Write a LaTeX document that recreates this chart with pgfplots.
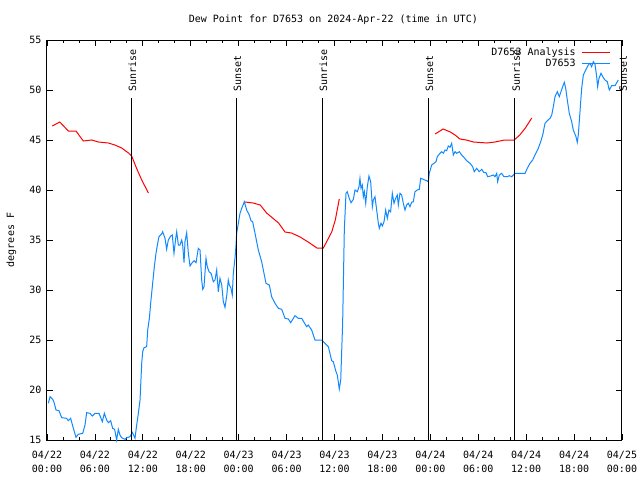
\documentclass[border=0pt]{standalone}
\usepackage{pgfplots}
\pgfplotsset{compat=1.18}
\usepackage{fontspec}
\setmainfont{DejaVu Sans Mono}
\definecolor{dpblue}{RGB}{16,136,255}
\begin{document}
\fontsize{7.5}{9}\selectfont
\begin{tikzpicture}[x=1pt,y=1pt]
\path[use as bounding box] (0,0) rectangle (480,360);
\node[font=\fontsize{7.5}{9}\selectfont] at (250,345) {Dew Point for D7653 on 2024-Apr-22 (time in UTC)};
\node[rotate=90,font=\fontsize{7.5}{9}\selectfont] at (8.5,180) {degrees F};
\begin{axis}[
  at={(35.25pt,30pt)}, anchor=south west,
  scale only axis, width=431.25pt, height=300pt,
  xmin=0, xmax=72, ymin=15, ymax=55,
  axis line style={line width=0.75pt},
  every tick/.style={black, line width=0.6pt},
  major tick length=4.5pt, minor tick length=2.5pt,
  tick align=inside,
  xtick={0,6,...,72},
  minor x tick num=2,
  xticklabels={04/22\\00:00,04/22\\06:00,04/22\\12:00,04/22\\18:00,04/23\\00:00,04/23\\06:00,04/23\\12:00,04/23\\18:00,04/24\\00:00,04/24\\06:00,04/24\\12:00,04/24\\18:00,04/25\\00:00},
  xticklabel style={align=center, font=\fontsize{7.5}{10.5}\selectfont, yshift=-5.5pt},
  ytick={15,20,...,55},
  yticklabel style={font=\fontsize{7.5}{9}\selectfont, xshift=-1.5pt},
  /pgf/number format/assume math mode=true,
  legend style={draw=none, fill=none, at={(rel axis cs:0.982,0.99)}, anchor=north east,
    font=\fontsize{7.5}{9}\selectfont, legend cell align=right, row sep=-2.5pt, inner sep=1pt,
    nodes={inner xsep=4pt}},
  legend plot pos=right,
  legend image code/.code={\draw[#1] (-1pt,0pt) -- (20pt,0pt);},
  clip=false,
]
\addplot[red, line width=0.75pt] coordinates {
(0.66,46.4)(1.6,46.8)(2.67,45.9)(3.63,45.9)(4.55,44.9)(5.6,45.0)(6.43,44.8)(7.68,44.7)(8.5,44.5)(9.35,44.2)(10.2,43.7)(10.6,43.4)(11.2,42.2)(11.86,41.0)(12.7,39.7)
};
\addlegendentry{D7653 Analysis}
\addplot[dpblue, line width=0.75pt] coordinates {
(0.17,18.67)(0.38,19.33)(0.71,19.07)(0.88,18.77)(1.13,18.0)(1.5,17.93)(1.84,17.23)(2.46,17.17)(2.67,16.93)(2.96,17.17)(3.3,16.17)(3.63,15.27)(3.92,15.57)(4.47,15.67)(4.76,16.5)(4.97,17.73)(5.38,17.67)(5.68,17.4)(6.01,17.67)(6.51,17.67)(6.76,17.17)(6.93,16.83)(7.18,17.67)(7.47,17.0)(7.68,16.73)(7.97,16.93)(8.22,16.17)(8.47,16.07)(8.72,15.0)(8.93,16.07)(9.14,15.5)(9.35,15.23)(9.77,15.07)(9.98,15.23)(10.39,15.33)(10.68,15.77)(11.02,15.17)(11.23,16.5)(11.44,17.67)(11.65,19.0)(11.86,22.67)(11.98,23.83)(12.15,24.23)(12.48,24.33)(12.61,26.0)(12.82,27.17)(12.98,28.67)(13.23,30.67)(13.44,32.33)(13.65,33.67)(13.82,34.5)(14.02,35.33)(14.36,35.6)(14.48,35.83)(14.78,35.17)(14.98,34.07)(15.19,35.0)(15.49,35.4)(15.69,35.5)(15.9,33.67)(16.12,35.17)(16.24,35.83)(16.45,34.5)(16.65,34.5)(16.87,35.0)(16.99,34.5)(17.16,32.73)(17.28,34.83)(17.49,35.73)(17.7,33.67)(17.91,32.4)(18.12,32.67)(18.41,32.93)(18.66,32.73)(18.95,34.17)(19.16,34.0)(19.37,31.0)(19.5,30.07)(19.66,30.33)(19.91,33.17)(20.07,32.33)(20.29,31.83)(20.54,31.67)(20.83,30.83)(21.04,31.0)(21.25,32.0)(21.45,29.83)(21.66,31.17)(21.88,30.5)(22.08,28.83)(22.29,28.27)(22.5,29.4)(22.7,31.0)(22.83,30.5)(23.04,30.17)(23.2,29.5)(23.33,31.67)(23.54,33.17)(23.67,34.5)(23.75,35.67)(23.96,36.67)(24.17,37.67)(24.38,38.17)(24.71,38.83)(25.0,38.0)(25.33,37.5)(25.54,36.93)(25.75,36.83)(26.05,35.67)(26.46,34.0)(26.88,32.83)(27.17,31.67)(27.42,30.67)(27.84,30.5)(28.13,29.33)(28.55,28.67)(28.97,28.17)(29.39,28.07)(29.8,27.17)(30.22,27.1)(30.51,26.73)(31.05,27.43)(31.47,27.17)(31.89,27.17)(32.31,26.6)(32.52,26.33)(32.72,26.5)(33.14,26.0)(33.56,25.0)(34.4,25.0)(34.81,24.67)(35.23,24.33)(35.65,22.93)(35.85,22.83)(36.19,21.83)(36.35,21.5)(36.6,20.1)(36.78,21.0)(37.02,26.67)(37.23,36.0)(37.44,39.67)(37.6,39.83)(37.85,39.17)(38.07,38.73)(38.36,39.07)(38.57,40.0)(38.86,39.83)(39.07,40.33)(39.19,41.17)(39.32,40.17)(39.48,40.5)(39.61,39.33)(39.74,39.83)(39.91,38.67)(40.11,40.33)(40.32,41.4)(40.53,40.83)(40.74,38.33)(40.86,39.0)(41.07,39.33)(41.28,38.0)(41.49,36.67)(41.61,36.17)(41.82,36.67)(41.99,36.4)(42.2,36.83)(42.41,38.0)(42.61,37.17)(42.82,38.0)(43.03,37.83)(43.24,39.67)(43.45,38.67)(43.66,39.17)(43.86,39.5)(43.99,38.5)(44.2,39.67)(44.41,39.5)(44.62,38.67)(44.83,38.0)(45.04,38.5)(45.25,38.67)(45.45,38.33)(45.66,38.77)(45.87,38.83)(46.08,39.83)(46.37,40.0)(46.62,40.07)(46.79,41.17)(47.12,41.07)(47.54,40.93)(47.75,40.83)(47.87,41.67)(48.17,42.5)(48.46,42.67)(48.71,42.83)(48.87,43.33)(49.21,43.67)(49.42,43.83)(49.62,43.67)(49.84,44.0)(50.05,43.93)(50.25,44.4)(50.46,44.27)(50.67,44.67)(50.88,43.5)(51.09,43.83)(51.3,43.67)(51.63,43.83)(51.93,43.5)(52.13,43.33)(52.55,42.93)(52.97,42.67)(53.3,42.33)(53.5,41.83)(53.8,42.17)(54.13,41.83)(54.43,42.07)(54.72,41.73)(54.97,41.73)(55.18,41.33)(55.55,41.4)(55.89,41.5)(56.1,41.33)(56.31,41.67)(56.43,40.83)(56.64,41.5)(56.93,41.67)(57.22,41.33)(57.64,41.33)(57.89,41.43)(58.19,41.33)(58.6,41.67)(59.23,41.67)(59.86,41.67)(60.14,42.17)(60.48,42.67)(60.82,43.0)(61.1,43.5)(61.52,44.17)(61.82,44.83)(62.07,45.5)(62.36,46.67)(62.65,46.93)(62.99,47.17)(63.2,47.5)(63.4,48.33)(63.61,49.33)(63.9,49.83)(64.15,49.33)(64.36,49.83)(64.57,50.33)(64.78,50.77)(64.95,50.17)(65.15,49.0)(65.4,47.67)(65.7,46.83)(65.9,46.0)(66.24,45.33)(66.4,44.77)(66.53,45.5)(66.74,47.83)(66.95,50.17)(67.16,51.5)(67.46,52.0)(67.78,52.5)(67.99,52.67)(68.2,52.33)(68.41,52.83)(68.62,52.57)(68.83,51.33)(68.95,50.33)(69.12,51.17)(69.37,51.67)(69.58,51.33)(69.87,51.0)(70.16,50.83)(70.41,50.0)(70.71,50.43)(71.12,50.43)(71.41,50.83)(71.54,51.0)
};
\addlegendentry{D7653}
\addplot[red, line width=0.75pt, forget plot] coordinates {
(24.8,38.8)(25.8,38.7)(26.7,38.5)(27.5,37.7)(28.1,37.3)(29.0,36.7)(29.8,35.8)(30.6,35.7)(31.7,35.3)(32.7,34.8)(33.8,34.2)(34.6,34.2)(35.0,34.8)(35.65,35.8)(36.1,37.0)(36.6,39.1)
};
\addplot[red, line width=0.75pt, forget plot] coordinates {
(48.6,45.6)(49.6,46.1)(50.5,45.8)(51.1,45.5)(51.7,45.1)(52.5,45.0)(53.4,44.8)(55.1,44.7)(56.1,44.8)(57.3,45.0)(58.5,45.0)(59.2,45.5)(59.9,46.2)(60.7,47.2)
};
\addplot[black, line width=0.75pt, forget plot] coordinates {(10.55,15)(10.55,49.2)};
\addplot[black, line width=0.75pt, forget plot] coordinates {(23.7,15)(23.7,49.2)};
\addplot[black, line width=0.75pt, forget plot] coordinates {(34.47,15)(34.47,49.2)};
\addplot[black, line width=0.75pt, forget plot] coordinates {(47.74,15)(47.74,49.2)};
\addplot[black, line width=0.75pt, forget plot] coordinates {(58.58,15)(58.58,49.2)};
\addplot[black, line width=0.75pt, forget plot] coordinates {(72,15)(72,49.2)};
\node[rotate=90, anchor=west, inner sep=0pt, font=\fontsize{7.5}{9}\selectfont] at (axis cs:10.7,49.8) {Sunrise};
\node[rotate=90, anchor=west, inner sep=0pt, font=\fontsize{7.5}{9}\selectfont] at (axis cs:23.85,49.8) {Sunset};
\node[rotate=90, anchor=west, inner sep=0pt, font=\fontsize{7.5}{9}\selectfont] at (axis cs:34.62,49.8) {Sunrise};
\node[rotate=90, anchor=west, inner sep=0pt, font=\fontsize{7.5}{9}\selectfont] at (axis cs:47.89,49.8) {Sunset};
\node[rotate=90, anchor=west, inner sep=0pt, font=\fontsize{7.5}{9}\selectfont] at (axis cs:58.73,49.8) {Sunrise};
\node[rotate=90, anchor=west, inner sep=0pt, font=\fontsize{7.5}{9}\selectfont] at (axis cs:72.15,49.8) {Sunset};
\end{axis}
\end{tikzpicture}
\end{document}
